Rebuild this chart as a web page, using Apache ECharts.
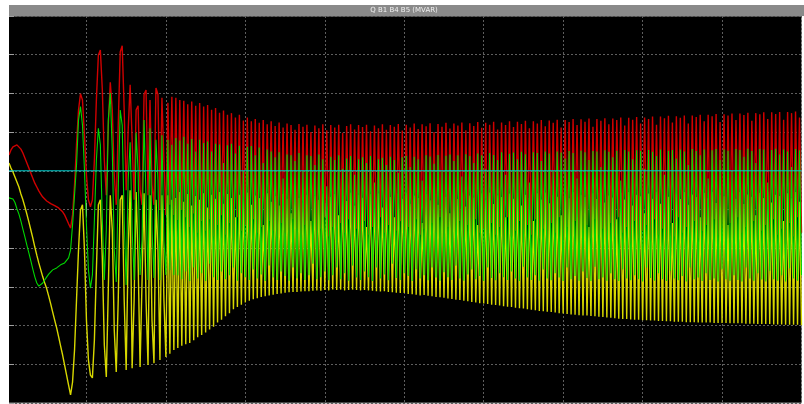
<!DOCTYPE html>
<html><head><meta charset="utf-8">
<script src="https://cdn.jsdelivr.net/npm/echarts@6/dist/echarts.min.js"></script>
<style>html,body{margin:0;padding:0;background:#fff;}#c{width:804px;height:404px;}</style>
</head><body><div id="c"></div>
<script>
const chartTitle = 'Q B1 B4 B5 (MVAR)';
// time axis (s) and value axis (MVAR)
const timeRange = [0, 10];
const timeInterval = 1;
const qRange = [-500, 500];
const qInterval = 100;
const sampleStart = 0.025;
const sampleStep = 0.025;

const yellowQ = [
120,107,97,84,71,58,40,25,7,-12,
-32,-53,-74,-97,-118,-138,-156,-174,-190,-205,
-224,-244,-265,-286,-306,-329,-353,-376,-402,-428,
-454,-479,-446,-363,-234,-105,-1,12,-105,-286,
-389,-428,-435,-337,-156,12,25,-130,-350,-433,
-208,37,-53,-311,-420,-234,25,37,-234,-415,
-105,50,-410,-234,45,-130,-407,-182,42,-234,
-402,37,-286,-397,25,-105,-389,37,-234,-381,
37,-373,25,-363,
30,-358,45,-352,20,-348,40,-345,10,-338,
35,-330,25,-324,42,-318,5,-310,38,-303,
28,-292,45,-285,15,-276,40,-268,30,-258,
-20,-252,38,-246,25,-240,44,-236,12,-232,
36,-229,30,-226,-40,-224,42,-222,20,-220,
35,-218,10,-217,40,-215,28,-214,-10,-213,
44,-213,30,-212,18,-211,38,-211,-30,-210,
35,-209,25,-210,42,-208,8,-209,33,-207,
40,-208,-15,-207,36,-209,22,-208,44,-207,
10,-208,38,-209,30,-208,-45,-209,40,-210,
26,-211,42,-212,5,-211,37,-213,32,-214,
-20,-215,41,-216,28,-216,44,-218,15,-219,
36,-220,30,-222,-35,-221,40,-223,24,-224,
43,-226,12,-227,38,-228,33,-230,-10,-231,
41,-233,27,-234,44,-236,8,-237,36,-239,
31,-240,-40,-242,42,-243,25,-244,44,-246,
14,-247,37,-248,32,-250,-20,-251,41,-252,
28,-254,45,-255,10,-256,38,-258,30,-259,
-30,-260,42,-262,26,-263,44,-264,16,-265,
37,-266,33,-268,-15,-269,41,-270,29,-271,
45,-272,12,-273,38,-274,32,-274,-45,-275,
42,-276,27,-277,44,-278,18,-279,36,-280,
31,-281,-25,-282,43,-283,26,-283,45,-284,
10,-285,38,-285,34,-286,-10,-286,41,-287,
28,-287,46,-288,15,-288,37,-289,33,-289,
-35,-290,42,-290,27,-290,45,-291,12,-291,
39,-291,32,-292,-20,-292,43,-292,29,-292,
46,-293,17,-293,38,-293,34,-293,-40,-294,
42,-294,28,-294,45,-294,14,-295,39,-295,
33,-295,-15,-296,43,-296,30,-296,46,-296,
18,-297,38,-297,35,-297,-30,-298,42,-298,
29,-298,45,-298,20,-299
];

const redQ = [
141,154,162,167,167,164,156,146,133,120,
107,94,81,68,58,48,40,32,27,22,
18,15,12,10,7,4,-1,-6,-14,-25,
-37,-48,-14,63,167,257,299,283,192,89,
25,7,25,128,283,399,412,309,128,37,
218,329,257,89,12,218,407,423,257,50,
205,322,180,25,257,268,50,12,297,309,
37,283,63,12,314,297,-1,289,128,-14,
276,12,291,-14,289,-27,283,-1,
281,-20,272,-45,279,-10,268,-60,275,-30,
266,-55,270,-25,258,-70,262,-40,250,-15,
256,-65,245,-35,249,-80,238,-20,245,-55,
230,-40,238,-75,228,-25,234,-60,224,-45,
231,-85,220,-30,228,-55,216,-70,225,-35,
212,-60,222,-80,218,-25,206,-50,221,-75,
214,-40,219,-65,200,-30,217,-85,210,-50,
220,-20,205,-70,218,-45,212,-90,219,-35,
198,-60,216,-25,220,-75,207,-50,218,-85,
213,-30,219,-65,202,-45,217,-80,210,-20,
220,-60,206,-40,218,-90,214,-55,221,-30,
204,-70,219,-45,212,-85,222,-25,208,-65,
220,-50,215,-80,223,-35,200,-60,221,-20,
214,-75,224,-45,209,-90,222,-55,217,-30,
225,-70,205,-40,223,-85,216,-25,226,-60,
211,-50,224,-80,219,-35,227,-65,207,-45,
225,-90,218,-20,228,-70,213,-55,227,-30,
221,-85,229,-40,210,-65,228,-25,222,-75,
231,-50,215,-90,230,-35,224,-60,232,-20,
212,-80,231,-45,226,-70,234,-30,218,-85,
233,-55,227,-40,235,-75,214,-25,234,-65,
229,-50,236,-90,220,-35,235,-70,231,-20,
238,-60,217,-45,237,-85,232,-30,239,-75,
222,-55,238,-40,234,-80,240,-25,219,-65,
240,-50,236,-90,242,-35,225,-70,241,-20,
237,-60,243,-45,222,-85,243,-30,239,-75,
245,-55,228,-40,245,-80,241,-25,247,-65,
226,-50,246,-90,243,-35,248,-70,231,-20,
248,-60,244,-45,250,-85,229,-30,249,-75,
246,-55,251,-40,234,-80,251,-25,247,-65,
252,-50,232,-90,252,-35,249,-70,253,-20,
238,-60
];

const greenQ = [
30,30,27,18,2,-12,-30,-51,-71,-92,
-112,-133,-154,-174,-190,-198,-195,-190,-182,-174,
-167,-162,-156,-154,-151,-146,-143,-141,-138,-133,
-125,-105,-40,37,115,231,266,218,102,-40,
-156,-203,-169,-27,128,210,167,-27,-182,-53,
231,301,154,-105,-187,50,257,218,-27,-195,
76,174,-53,-182,198,102,-169,-79,231,25,
-182,210,-53,-177,180,76,-182,192,-79,-169,
180,-156,167,-169,
185,-170,178,-180,188,-160,170,-185,182,-150,
150,-178,180,-165,172,-185,176,-140,150,-175,
170,-182,168,-160,120,-180,166,-170,170,-150,
145,-184,165,-165,100,-175,162,-182,164,-155,
140,-178,160,-168,120,-185,155,-145,150,-176,
135,-182,148,-160,80,-172,142,-184,140,-150,
125,-178,146,-165,100,-182,140,-170,138,-140,
115,-180,142,-175,130,-160,60,-183,136,-170,
128,-150,140,-180,105,-165,132,-184,138,-145,
90,-176,130,-182,135,-160,120,-175,138,-185,
70,-150,130,-178,134,-168,115,-183,136,-140,
128,-177,95,-182,135,-165,138,-172,110,-185,
136,-155,130,-178,75,-170,140,-183,137,-150,
118,-176,141,-184,100,-162,139,-175,142,-182,
125,-145,140,-178,85,-184,143,-168,138,-155,
120,-180,145,-172,140,-185,105,-150,146,-177,
141,-183,128,-165,148,-175,90,-182,144,-160,
147,-178,130,-185,149,-148,143,-176,70,-182,
148,-170,146,-184,125,-155,150,-178,145,-183,
100,-165,150,-176,147,-185,132,-150,151,-180,
146,-172,80,-184,152,-160,148,-177,128,-185,
151,-148,150,-180,110,-176,153,-184,149,-165,
135,-180,152,-185,75,-155,154,-178,150,-183,
130,-170,153,-180,151,-186,105,-150,154,-177,
149,-184,138,-165,155,-180,90,-185,152,-158,
154,-178,132,-183,155,-172,150,-186,115,-150,
156,-180,151,-176,140,-185,155,-165,80,-182,
153,-178,156,-186,128,-155,155,-180,152,-184,
100,-170,156,-182,154,-186,136,-150,157,-178,
151,-184,120,-165,156,-181,155,-186,70,-158,
154,-180,157,-184,142,-170,155,-186,150,-152,
110,-178,156,-184,153,-170
];

const cyanTimes = [0.025, 10];
const cyanQ = [100, 100];

function toPairs(values) {
  return values.map(function (v, i) { return [sampleStart + i * sampleStep, v]; });
}

const chart = echarts.init(document.getElementById('c'), null, {renderer: 'canvas'});

const gridLine = {show: true, lineStyle: {color: '#5e5e5e', width: 1, type: [2, 2]}};
function valueAxis(range, interval, pos, split, tickColor) {
  return {
    type: 'value', min: range[0], max: range[1], interval: interval, position: pos,
    axisLine: {show: false},
    axisLabel: {show: false},
    axisTick: {show: true, inside: true, length: 7, lineStyle: {color: tickColor, width: 1}},
    splitLine: split ? gridLine : {show: false}
  };
}
function lineSeries(name, values, color, width) {
  return {
    name: name, type: 'line', data: toPairs(values), symbol: 'none', silent: true,
    lineStyle: {color: color, width: width}, itemStyle: {color: color}, animation: false
  };
}

chart.setOption({
  backgroundColor: '#ffffff',
  animation: false,
  grid: {left: 7, right: 2.5, top: 16, bottom: 1, show: true, backgroundColor: '#000000',
         borderColor: '#8c8c8c', borderWidth: 1, containLabel: false},
  xAxis: [
    valueAxis(timeRange, timeInterval, 'bottom', true, '#a8a8a8'),
    valueAxis(timeRange, timeInterval, 'top', false, '#c8c8c8')
  ],
  yAxis: [
    valueAxis(qRange, qInterval, 'left', true, '#a0a0a0'),
    valueAxis(qRange, qInterval, 'right', false, '#a0a0a0')
  ],
  series: [
    lineSeries('Q B5', yellowQ, '#d8d800', 1.4),
    lineSeries('Q B1', redQ, '#d00000', 1.4),
    lineSeries('Q B4', greenQ, '#00d800', 1.1),
    {
      name: 'Qref', type: 'line', symbol: 'none', silent: true, animation: false,
      data: cyanTimes.map(function (t, i) { return [t, cyanQ[i]]; }),
      lineStyle: {color: '#00d0d0', width: 1}
    }
  ],
  graphic: [
    {type: 'rect', z: 100, shape: {x: 0, y: 0, width: 9, height: 404}, style: {fill: '#ffffff'}},
    {type: 'rect', z: 100, shape: {x: 9, y: 5, width: 795, height: 11}, style: {fill: '#8a8a8a'}},
    {type: 'text', z: 101, x: 404, y: 10.5,
     style: {text: chartTitle, fill: '#f2f2f2', font: '7px "DejaVu Sans"', align: 'center', verticalAlign: 'middle',
             textAlign: 'center', textVerticalAlign: 'middle'}}
  ]
});
</script>
</body></html>
